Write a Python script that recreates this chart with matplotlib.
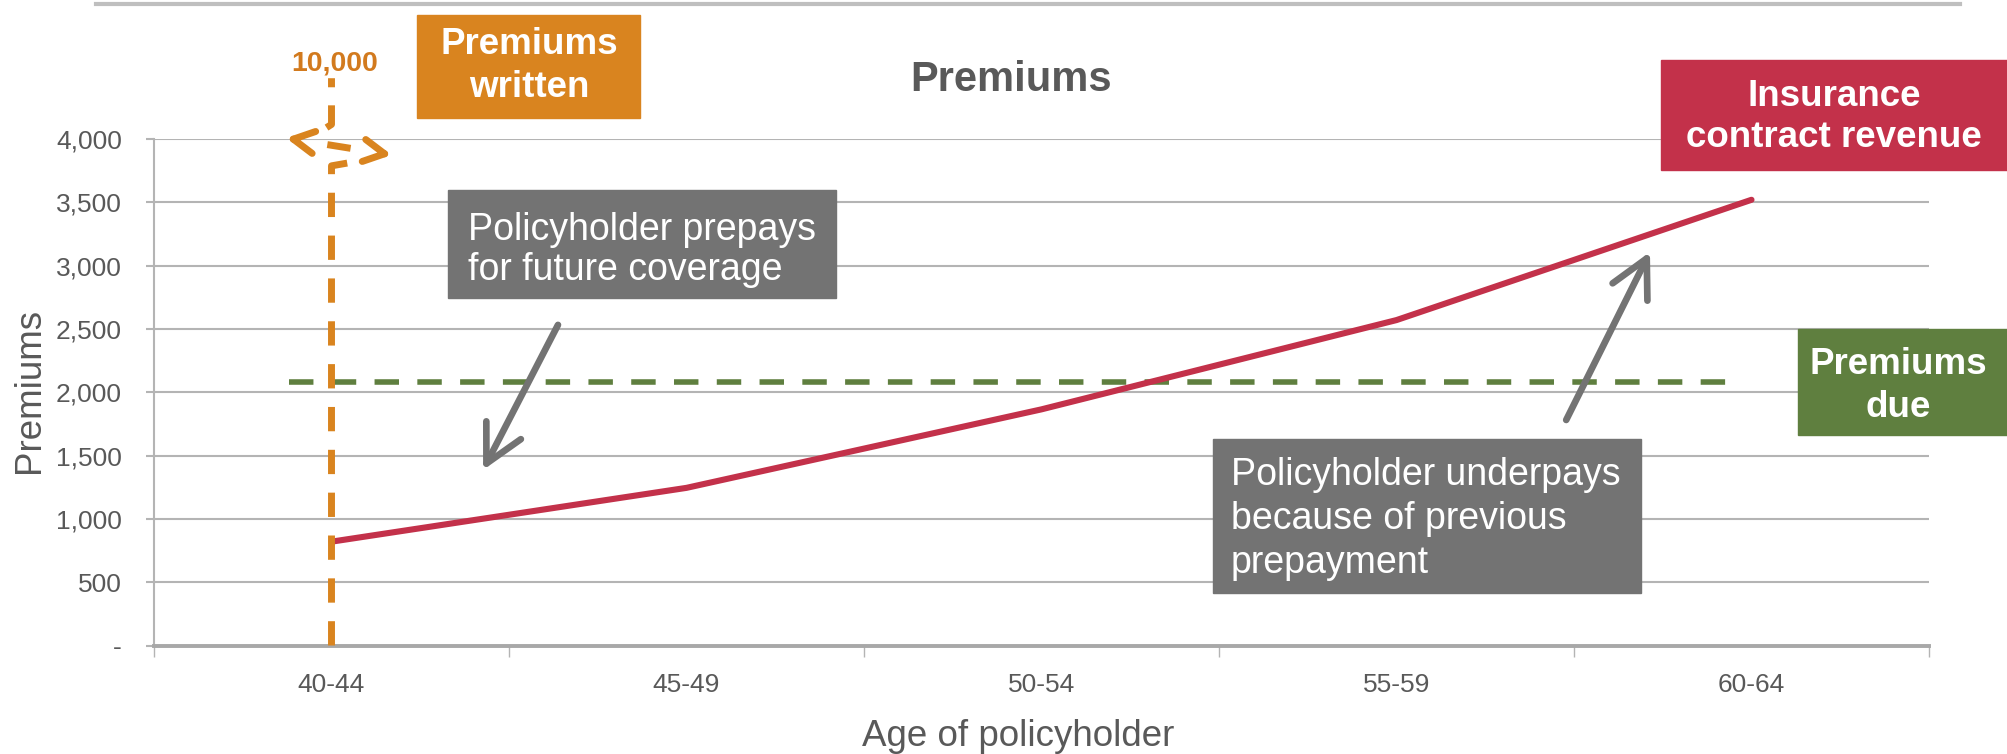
import matplotlib
matplotlib.use("Agg")
import matplotlib.pyplot as plt
from matplotlib.patches import Rectangle
from matplotlib.lines import Line2D
from matplotlib.ticker import FuncFormatter, FixedLocator

plt.rcParams['font.family'] = ['Liberation Sans', 'DejaVu Sans']

# data
age_groups = ['40-44', '45-49', '50-54', '55-59', '60-64']
contract_revenue = [820, 1245, 1865, 2570, 3520]
premiums_due = 2080
premiums_written = 10000      # only paid in the first age group
written_idx = 0
y_ticks = [0, 500, 1000, 1500, 2000, 2500, 3000, 3500, 4000]

GREY_TXT = '#595959'
GRID = '#B4B4B4'
RED = '#C3314A'
GREEN = '#5F7F3F'
ORANGE = '#D9841F'
BOXGREY = '#737373'

W, H = 2007, 754
fig = plt.figure(figsize=(W / 100, H / 100), dpi=100)
ax = fig.add_axes([154 / W, 1 - 645.5 / H, 1775 / W, 506.5 / H])

x = list(range(len(age_groups)))
ax.set_xlim(-0.5, len(age_groups) - 0.5)
ax.set_ylim(0, 4000)

# grid / axes styling
ax.yaxis.set_major_locator(FixedLocator(y_ticks))
ax.yaxis.set_major_formatter(FuncFormatter(lambda v, p: '-' if v == 0 else f'{int(v):,}'))
ax.grid(axis='y', color=GRID, lw=1.5)
ax.set_axisbelow(True)
for s in ['top', 'right']:
    ax.spines[s].set_visible(False)
ax.spines['left'].set_color(GRID)
ax.spines['left'].set_linewidth(1.5)
ax.spines['bottom'].set_color('#A8A8A8')
ax.spines['bottom'].set_linewidth(2.8)
ax.tick_params(axis='y', length=6, width=1.5, color=GRID, labelsize=19,
               labelcolor=GREY_TXT, pad=17)
ax.set_xticks([i - 0.5 for i in range(len(age_groups) + 1)])
ax.set_xticklabels([])
ax.set_xticks(x, minor=True)
ax.set_xticklabels(age_groups, minor=True)
ax.tick_params(axis='x', which='major', length=8, width=1, color=GRID)
ax.tick_params(axis='x', which='minor', length=0, labelsize=19,
               labelcolor=GREY_TXT, pad=20)

ax.set_xlabel('Age of policyholder', fontsize=26.5, color=GREY_TXT)
ax.xaxis.set_label_coords(0.487, -0.179)
ax.xaxis.label.set_va('center')
ax.set_ylabel('Premiums', fontsize=26.5, color=GREY_TXT)
ax.yaxis.set_label_coords(-0.07, 0.504)
ax.yaxis.label.set_va('center')

# premiums due (flat)
ax.plot([-0.12, 3.97], [premiums_due, premiums_due], color=GREEN, lw=4,
        dashes=(4.4, 3.3), zorder=3)

# insurance contract revenue
ax.plot(x, contract_revenue, color=RED, lw=4.4, solid_capstyle='round', zorder=4)

# premiums written: dashed line broken above the axis top
wx = x[written_idx]
ax.plot([wx, wx, wx + 0.065], [0, 3788, 3820], color=ORANGE, lw=5,
        linestyle=(0, (3.5, 2.67)), clip_on=False, zorder=5)
ax.plot([wx - 0.014, wx, wx], [4090, 4115, 4480], color=ORANGE, lw=5,
        linestyle=(0, (3.6, 2.6)), clip_on=False, zorder=5)
# break mark: dashed double arrow crossing the line
tipL = (wx - 0.128, 4008)
tipR = (wx + 0.17, 3874)
dx, dy = tipR[0] - tipL[0], tipR[1] - tipL[1]
head = dict(arrowstyle='->,head_length=0.75,head_width=0.4', color=ORANGE,
            lw=5, mutation_scale=20, shrinkA=0, shrinkB=0)
ax.annotate('', xy=tipL, xytext=(tipL[0] + 0.1 * dx, tipL[1] + 0.1 * dy),
            arrowprops=head, annotation_clip=False)
ax.annotate('', xy=tipR, xytext=(tipR[0] - 0.1 * dx, tipR[1] - 0.1 * dy),
            arrowprops=head, annotation_clip=False)
ax.plot([tipL[0] + 0.39 * dx, tipL[0] + 0.61 * dx],
        [tipL[1] + 0.39 * dy, tipL[1] + 0.61 * dy],
        color=ORANGE, lw=5, solid_capstyle='butt', clip_on=False, zorder=5)
ax.text(wx + 0.01, 4600, f'{premiums_written:,}', color='#D27A1E', fontsize=20.5,
        fontweight='bold', ha='center', va='center', clip_on=False)

# callout arrows
arrow = dict(arrowstyle='->,head_length=1.35,head_width=0.7', color=BOXGREY,
             lw=4.8, mutation_scale=20, shrinkA=0, shrinkB=0)
ax.annotate('', xy=(0.427, 1386), xytext=(0.638, 2532), arrowprops=arrow)
ax.annotate('', xy=(3.714, 3108), xytext=(3.478, 1781), arrowprops=arrow)


def box(x0, y0, x1, y1, color):
    fig.add_artist(Rectangle((x0 / W, 1 - y1 / H), (x1 - x0) / W, (y1 - y0) / H,
                             transform=fig.transFigure, color=color, zorder=6))


def ftext(px, py, s, **kw):
    fig.text(px / W, 1 - py / H, s, zorder=7, **kw)


# coloured labels
box(417, 15, 640, 118, ORANGE)
ftext(529, 66, 'Premiums\nwritten', color='white', fontsize=26.5, fontweight='bold',
      ha='center', va='center', linespacing=1.32)
box(1661, 60, 2007, 170, RED)
ftext(1834, 117, 'Insurance\ncontract revenue', color='white', fontsize=26.5,
      fontweight='bold', ha='center', va='center', linespacing=1.2)
box(1798, 329, 2007, 435, GREEN)
ftext(1898, 386, 'Premiums\ndue', color='white', fontsize=26.5, fontweight='bold',
      ha='center', va='center', linespacing=1.32)

# grey callouts
box(448, 190, 836, 298, BOXGREY)
ftext(468, 250, 'Policyholder prepays\nfor future coverage', color='white',
      fontsize=27, ha='left', va='center', linespacing=1.17)
box(1213, 439, 1641, 593, BOXGREY)
ftext(1231, 519, 'Policyholder underpays\nbecause of previous\nprepayment',
      color='white', fontsize=27, ha='left', va='center', linespacing=1.27)

# title and top rule
ftext(1011, 80, 'Premiums', color=GREY_TXT, fontsize=30, fontweight='bold',
      ha='center', va='center')
fig.add_artist(Line2D([96 / W, 1960 / W], [1 - 4 / H, 1 - 4 / H],
                      transform=fig.transFigure, color='#BFBFBF', lw=3))

fig.savefig('out.png', dpi=100)
